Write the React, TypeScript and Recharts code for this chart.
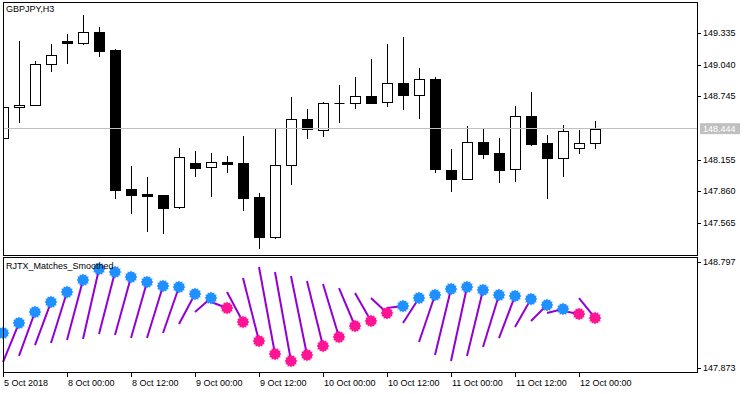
import { ComposedChart, Bar, Scatter, XAxis, YAxis } from "recharts";

// GBPJPY H3 bars, 5 Oct 2018 12:00 .. 12 Oct 03:00
const opens = [148.357, 148.646, 148.664, 149.046, 149.261, 149.242, 149.344, 149.177, 147.882, 147.831, 147.826, 147.714, 148.124, 148.087, 148.129, 148.124, 147.807, 147.435, 148.105, 148.534, 148.431, 148.683, 148.683, 148.748, 148.692, 148.869, 148.757, 148.907, 148.059, 147.975, 148.320, 148.217, 148.068, 148.562, 148.310, 148.171, 148.264, 148.310];
const highs = [148.646, 149.261, 149.074, 149.233, 149.326, 149.503, 149.391, 149.186, 148.096, 147.994, 147.826, 148.264, 148.236, 148.217, 148.189, 148.376, 147.845, 148.450, 148.739, 148.627, 148.692, 148.851, 148.925, 149.093, 149.233, 149.298, 149.009, 148.925, 148.254, 148.469, 148.441, 148.357, 148.655, 148.785, 148.385, 148.478, 148.431, 148.515];
const lows = [148.357, 148.497, 148.660, 148.972, 149.046, 149.223, 149.111, 147.789, 147.649, 147.481, 147.463, 147.695, 147.994, 147.807, 148.031, 147.677, 147.323, 147.416, 147.919, 148.348, 148.366, 148.497, 148.627, 148.674, 148.646, 148.618, 148.534, 148.031, 147.854, 147.966, 148.161, 147.938, 147.947, 148.282, 147.789, 147.994, 148.208, 148.254];
const closes = [148.646, 148.664, 149.046, 149.130, 149.242, 149.344, 149.167, 147.872, 147.826, 147.817, 147.705, 148.180, 148.077, 148.133, 148.119, 147.798, 147.435, 148.105, 148.534, 148.441, 148.683, 148.683, 148.748, 148.683, 148.869, 148.757, 148.907, 148.068, 147.975, 148.320, 148.208, 148.059, 148.562, 148.301, 148.171, 148.422, 148.310, 148.444];

// RJTX_Matches_Smoothed
const smoothed = [148.178, 148.265, 148.361, 148.448, 148.535, 148.640, 148.736, 148.710, 148.666, 148.623, 148.588, 148.579, 148.518, 148.483, 148.396, 148.274, 148.108, 147.995, 147.934, 147.986, 148.065, 148.143, 148.239, 148.283, 148.352, 148.413, 148.483, 148.509, 148.562, 148.579, 148.553, 148.509, 148.501, 148.474, 148.422, 148.387, 148.344, 148.309];
const trendUp = [1, 1, 1, 1, 1, 1, 1, 1, 1, 1, 1, 1, 1, 1, 0, 0, 0, 0, 0, 0, 0, 0, 0, 0, 0, 1, 1, 1, 1, 1, 1, 1, 1, 1, 1, 1, 0, 0];
// start of each match segment (drawn from previous bar to the dot)
const segStarts = [147.925, 147.978, 148.073, 148.091, 148.117, 148.126, 148.169, 148.161, 148.134, 148.134, 148.178, 148.257, 148.361, 148.448, 148.535, 148.658, 148.753, 148.710, 148.675, 148.631, 148.605, 148.570, 148.527, 148.483, 148.396, 148.265, 148.100, 147.986, 147.934, 147.978, 148.056, 148.134, 148.230, 148.283, 148.352, 148.370, 148.483];

const priceTicks = [147.565, 147.86, 148.155, 148.444, 148.745, 149.04, 149.335];
const lastPrice = 148.444;
const indTicks = [147.873, 148.797];
const xTicks = [0, 4, 8, 12, 16, 20, 24, 28, 32, 36];
const xLabels = ["5 Oct 2018", "8 Oct 00:00", "8 Oct 12:00", "9 Oct 00:00", "9 Oct 12:00", "10 Oct 00:00", "10 Oct 12:00", "11 Oct 00:00", "11 Oct 12:00", "12 Oct 00:00"];

const candles = opens.map((o, i) => ({
  i,
  open: o,
  high: highs[i],
  low: lows[i],
  close: closes[i],
  range: [lows[i], highs[i]],
}));
const dots = smoothed.map((v, i) => ({ i, v, up: trendUp[i] === 1 }));
const segments = segStarts.map((s, k) => [
  { i: k, v: s },
  { i: k + 1, v: smoothed[k + 1] },
]);

const FONT = "'Liberation Sans', Arial, sans-serif";
const xDomain = [0, 43.375];

const Candle = (props: any) => {
  const { x, y, width, height, payload } = props;
  const { open, close, high, low } = payload;
  const cx = Math.round(x + width / 2) + 0.5;
  const py = (v: number) => y + ((high - v) / (high - low)) * height;
  const top = Math.round(py(Math.max(open, close))) + 0.5;
  const bot = Math.round(py(Math.min(open, close))) + 0.5;
  const up = close > open;
  return (
    <g>
      <line x1={cx} x2={cx} y1={Math.round(y)} y2={Math.round(y + height)} stroke="#000" />
      {bot - top < 1 ? (
        <line x1={cx - 5} x2={cx + 5} y1={top} y2={top} stroke="#000" />
      ) : (
        <rect x={cx - 5} y={top} width={10} height={bot - top} fill={up ? "#fff" : "#000"} stroke="#000" />
      )}
    </g>
  );
};

const Star = (props: any) => {
  const { cx, cy, payload } = props;
  const pts: string[] = [];
  for (let k = 0; k < 24; k++) {
    const r = k % 2 === 0 ? 6.5 : 5;
    const a = (Math.PI * k) / 12;
    pts.push(`${cx + r * Math.cos(a)},${cy + r * Math.sin(a)}`);
  }
  return <polygon points={pts.join(" ")} fill={payload.up ? "#1E90FF" : "#FF1493"} />;
};

const PriceTick = (props: any) => {
  const { x, y, payload } = props;
  const v = payload.value;
  if (Math.abs(v - lastPrice) < 1e-6) {
    return (
      <g>
        <rect x={x + 3} y={y - 5.5} width={40} height={11} fill="#C0C0C0" />
        <text x={x + 6} y={y + 3} fontSize={9} fontFamily={FONT} fill="#fff">{v.toFixed(3)}</text>
      </g>
    );
  }
  return (
    <g>
      <line x1={x} x2={x + 4} y1={Math.round(y) + 0.5} y2={Math.round(y) + 0.5} stroke="#000" />
      <text x={x + 6} y={y + 3} fontSize={9} fontFamily={FONT} fill="#000">{v.toFixed(3)}</text>
    </g>
  );
};

const TimeTick = (props: any) => {
  const { x, y, payload, index } = props;
  const px = Math.round(x) + 0.5;
  return (
    <g>
      <line x1={px} x2={px} y1={y} y2={y + 5} stroke="#000" />
      <text x={x + 1} y={y + 14} fontSize={9} fontFamily={FONT} fill="#000">{xLabels[index] ?? payload.value}</text>
    </g>
  );
};

const frame = (left: number, top: number, w: number, h: number) => ({
  position: "absolute" as const,
  left,
  top,
  width: w,
  height: h,
  border: "1px solid #000",
  boxSizing: "border-box" as const,
  pointerEvents: "none" as const,
});

const label = (left: number, top: number) => ({
  position: "absolute" as const,
  left,
  top,
  fontFamily: FONT,
  fontSize: 9,
  lineHeight: "11px",
  color: "#000",
});

export default function App() {
  return (
    <div style={{ position: "absolute", left: 0, top: 0, width: 750, height: 394, background: "#fff", overflow: "hidden" }}>
      <div style={{ position: "absolute", left: 0, top: 0 }}>
        <ComposedChart width={750} height={256} data={candles} margin={{ top: 2, right: 0, left: 3, bottom: 1 }}>
          <XAxis dataKey="i" type="number" domain={xDomain} allowDataOverflow hide />
          <YAxis
            orientation="right"
            width={53}
            type="number"
            domain={[147.2669, 149.6238]}
            allowDataOverflow
            ticks={priceTicks}
            interval={0}
            axisLine={false}
            tickLine={false}
            tickSize={0}
            tickMargin={0}
            tick={<PriceTick />}
          />
          <Bar dataKey="range" barSize={10} shape={<Candle />} isAnimationActive={false} />
        </ComposedChart>
      </div>
      <div style={{ position: "absolute", left: 3, top: 128, width: 694, height: 1, background: "#C0C0C0" }} />
      <div style={{ position: "absolute", left: 0, top: 256 }}>
        <ComposedChart width={750} height={138} margin={{ top: 1, right: 0, left: 3, bottom: 0 }}>
          <XAxis
            dataKey="i"
            type="number"
            domain={xDomain}
            ticks={xTicks}
            interval={0}
            height={22}
            axisLine={false}
            tickLine={false}
            tickSize={0}
            tickMargin={0}
            tick={<TimeTick />}
          />
          <YAxis
            orientation="right"
            width={53}
            type="number"
            domain={[147.8381, 148.8406]}
            ticks={indTicks}
            interval={0}
            axisLine={false}
            tickLine={false}
            tickSize={0}
            tickMargin={0}
            tick={<PriceTick />}
          />
          {segments.map((seg, k) => (
            <Scatter
              key={k}
              data={seg}
              dataKey="v"
              fill="#9400D3"
              line={{ stroke: "#9400D3", strokeWidth: 2 }}
              shape={() => <g />}
              isAnimationActive={false}
            />
          ))}
          <Scatter data={dots} dataKey="v" shape={<Star />} isAnimationActive={false} />
        </ComposedChart>
      </div>
      <div style={frame(3, 2, 695, 254)} />
      <div style={frame(3, 257, 695, 116)} />
      <div style={label(6, 4)}>GBPJPY,H3</div>
      <div style={label(6, 261)}>RJTX_Matches_Smoothed</div>
    </div>
  );
}
